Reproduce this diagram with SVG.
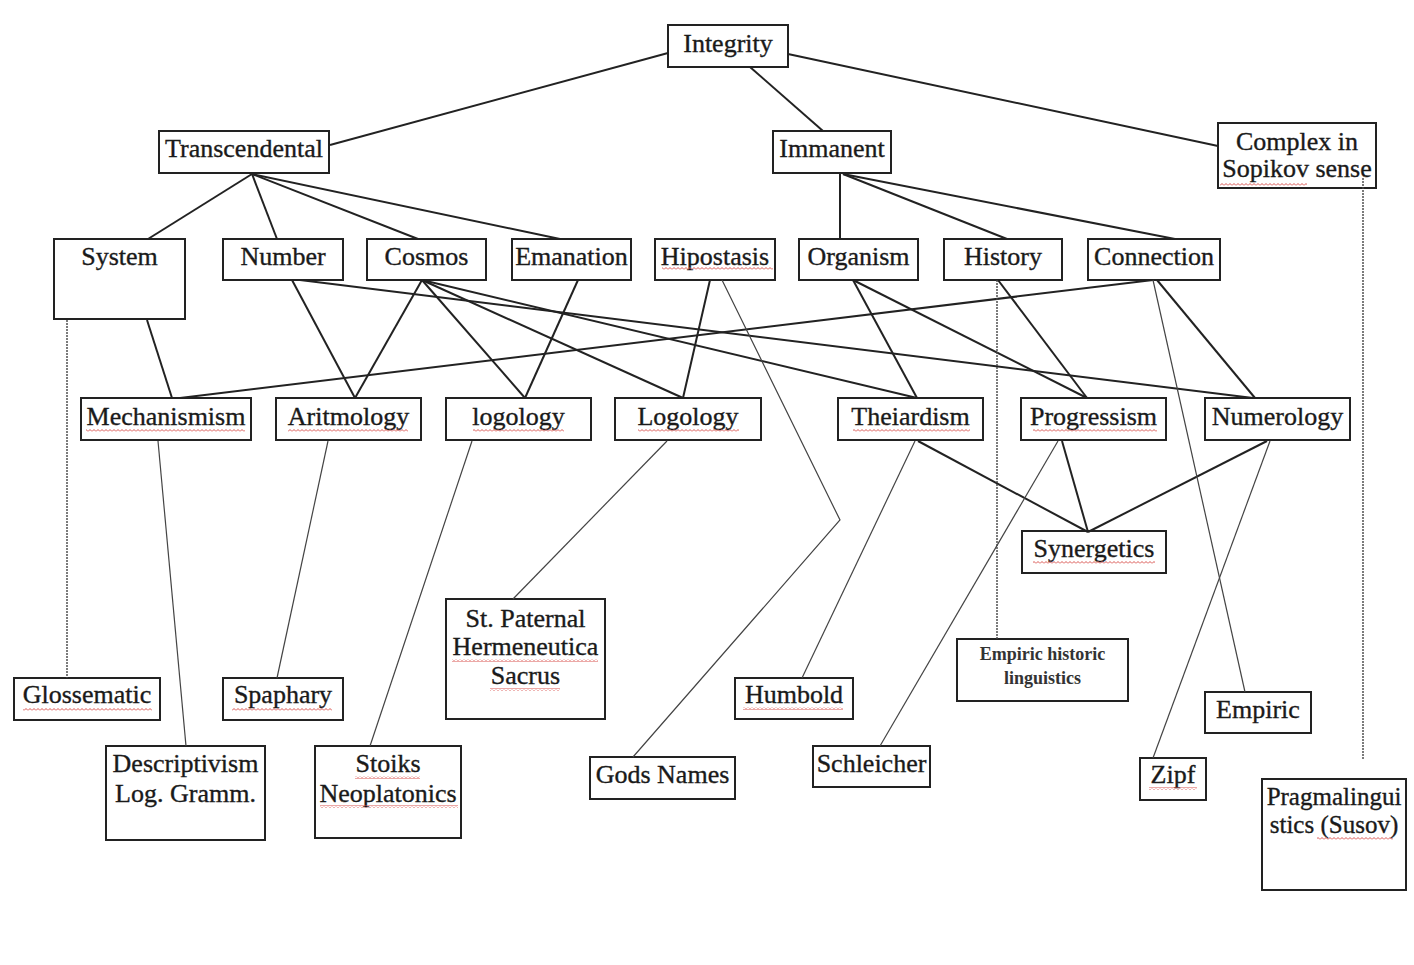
<svg xmlns="http://www.w3.org/2000/svg" width="1414" height="965" viewBox="0 0 1414 965">
<style>
.box{fill:#fff;stroke:#222;stroke-width:2}
.t{font-family:"Liberation Serif","Times New Roman",serif;font-size:26px;fill:#1a1a1a;stroke:#1a1a1a;stroke-width:0.35;text-anchor:middle}
.ts{font-family:"Liberation Serif","Times New Roman",serif;font-size:18px;font-weight:bold;fill:#333;text-anchor:middle}
.s{stroke:#222;stroke-width:2;fill:none}
.th{stroke:#444;stroke-width:1.2;fill:none}
.d{stroke:#444;stroke-width:1.4;fill:none;stroke-dasharray:2 1}
.w{fill:url(#wavy)}
</style>
<defs>
<pattern id="wavy" patternUnits="userSpaceOnUse" width="4" height="3">
<path d="M0 2.5 L2 0.5 L4 2.5" fill="none" stroke="#d9534f" stroke-width="1"/>
</pattern>
</defs>
<rect width="1414" height="965" fill="#fff"/>
<g id="nodes">
<g id="n-integrity"><rect class="box" x="668" y="25" width="120" height="42"/><text class="t" x="728" y="52">Integrity</text></g>
<g id="n-transcendental"><rect class="box" x="159" y="131" width="170" height="42"/><text class="t" x="244" y="157">Transcendental</text></g>
<g id="n-immanent"><rect class="box" x="773" y="131" width="118" height="42"/><text class="t" x="832" y="157">Immanent</text></g>
<g id="n-complex"><rect class="box" x="1218" y="123" width="158" height="65"/><text class="t" x="1297" y="150">Complex in</text><text class="t" x="1297" y="177">Sopikov sense</text><rect class="w" x="1220" y="183" width="87" height="3"/></g>
<g id="n-system"><rect class="box" x="54" y="239" width="131" height="80"/><text class="t" x="119.5" y="265">System</text></g>
<g id="n-number"><rect class="box" x="223" y="239" width="120" height="41"/><text class="t" x="283" y="265">Number</text></g>
<g id="n-cosmos"><rect class="box" x="367" y="239" width="119" height="41"/><text class="t" x="426.5" y="265">Cosmos</text></g>
<g id="n-emanation"><rect class="box" x="512" y="239" width="119" height="41"/><text class="t" x="571.5" y="265">Emanation</text></g>
<g id="n-hipostasis"><rect class="box" x="655" y="239" width="120" height="41"/><text class="t" x="715" y="265">Hipostasis</text><rect class="w" x="662" y="267" width="111" height="3"/></g>
<g id="n-organism"><rect class="box" x="799" y="239" width="119" height="41"/><text class="t" x="858.5" y="265">Organism</text></g>
<g id="n-history"><rect class="box" x="944" y="239" width="118" height="41"/><text class="t" x="1003" y="265">History</text></g>
<g id="n-connection"><rect class="box" x="1088" y="239" width="132" height="41"/><text class="t" x="1154" y="265">Connection</text></g>
<g id="n-mechanismism"><rect class="box" x="81" y="398" width="170" height="42"/><text class="t" x="166" y="425">Mechanismism</text><rect class="w" x="86" y="429" width="159" height="3"/></g>
<g id="n-aritmology"><rect class="box" x="276" y="398" width="145" height="42"/><text class="t" x="348.5" y="425">Aritmology</text><rect class="w" x="288" y="429" width="120" height="3"/></g>
<g id="n-logology-l"><rect class="box" x="446" y="398" width="145" height="42"/><text class="t" x="518.5" y="425">logology</text><rect class="w" x="473" y="429" width="91" height="3"/></g>
<g id="n-logology-u"><rect class="box" x="615" y="398" width="146" height="42"/><text class="t" x="688" y="425">Logology</text><rect class="w" x="638" y="429" width="101" height="3"/></g>
<g id="n-theiardism"><rect class="box" x="838" y="398" width="145" height="42"/><text class="t" x="910.5" y="425">Theiardism</text><rect class="w" x="853" y="429" width="117" height="3"/></g>
<g id="n-progressism"><rect class="box" x="1021" y="398" width="145" height="42"/><text class="t" x="1093.5" y="425">Progressism</text><rect class="w" x="1033" y="429" width="124" height="3"/></g>
<g id="n-numerology"><rect class="box" x="1205" y="398" width="145" height="42"/><text class="t" x="1277.5" y="425">Numerology</text></g>
<g id="n-synergetics"><rect class="box" x="1022" y="531" width="144" height="42"/><text class="t" x="1094" y="557">Synergetics</text><rect class="w" x="1033" y="561" width="122" height="3"/></g>
<g id="n-stpaternal"><rect class="box" x="446" y="599" width="159" height="120"/><text class="t" x="525.5" y="627">St. Paternal</text><text class="t" x="525.5" y="655">Hermeneutica</text><text class="t" x="525.5" y="684">Sacrus</text><rect class="w" x="452" y="659" width="146" height="3"/><rect class="w" x="490" y="688" width="70" height="3"/></g>
<g id="n-empirichist"><rect class="box" x="957" y="639" width="171" height="62"/><text class="ts" x="1042.5" y="660">Empiric historic</text><text class="ts" x="1042.5" y="684">linguistics</text></g>
<g id="n-glossematic"><rect class="box" x="14" y="678" width="146" height="42"/><text class="t" x="87" y="703">Glossematic</text><rect class="w" x="23" y="708" width="129" height="3"/></g>
<g id="n-spaphary"><rect class="box" x="223" y="678" width="120" height="42"/><text class="t" x="283" y="703">Spaphary</text><rect class="w" x="232" y="708" width="100" height="3"/></g>
<g id="n-humbold"><rect class="box" x="735" y="678" width="118" height="41"/><text class="t" x="794" y="703">Humbold</text><rect class="w" x="743" y="707" width="100" height="3"/></g>
<g id="n-empiric"><rect class="box" x="1205" y="692" width="106" height="41"/><text class="t" x="1258" y="718">Empiric</text></g>
<g id="n-descriptivism"><rect class="box" x="106" y="746" width="159" height="94"/><text class="t" x="185.5" y="772">Descriptivism</text><text class="t" x="185.5" y="802">Log. Gramm.</text></g>
<g id="n-stoiks"><rect class="box" x="315" y="746" width="146" height="92"/><text class="t" x="388" y="772">Stoiks</text><text class="t" x="388" y="802">Neoplatonics</text><rect class="w" x="355" y="776" width="65" height="3"/><rect class="w" x="320" y="805" width="138" height="3"/></g>
<g id="n-godsnames"><rect class="box" x="590" y="757" width="145" height="42"/><text class="t" x="662.5" y="783">Gods Names</text></g>
<g id="n-schleicher"><rect class="box" x="813" y="746" width="117" height="41"/><text class="t" x="871.5" y="772">Schleicher</text></g>
<g id="n-zipf"><rect class="box" x="1140" y="758" width="66" height="42"/><text class="t" x="1173" y="783">Zipf</text><rect class="w" x="1149" y="787" width="48" height="3"/></g>
<g id="n-pragma"><rect class="box" x="1262" y="779" width="144" height="111"/><text class="t" x="1334" y="805" style="font-size:25px">Pragmalingui</text><text class="t" x="1334" y="833" style="font-size:25px">stics (Susov)</text><rect class="w" x="1317" y="837" width="76" height="3"/></g>
</g>
<g id="connectors">
<line class="s" x1="668" y1="53" x2="330" y2="145"/>
<line class="s" x1="750" y1="67" x2="823" y2="131"/>
<line class="s" x1="788" y1="54" x2="1218" y2="146"/>
<line class="s" x1="252" y1="174" x2="148" y2="239"/>
<line class="s" x1="252" y1="174" x2="277" y2="239"/>
<line class="s" x1="252" y1="174" x2="418" y2="239"/>
<line class="s" x1="252" y1="174" x2="560" y2="239"/>
<line class="s" x1="840" y1="174" x2="840" y2="239"/>
<line class="s" x1="843" y1="174" x2="1007" y2="239"/>
<line class="s" x1="843" y1="174" x2="1175" y2="239"/>
<line class="s" x1="147" y1="320" x2="172" y2="398"/>
<line class="s" x1="292" y1="280" x2="355" y2="398"/>
<line class="s" x1="422" y1="280" x2="355" y2="398"/>
<line class="s" x1="300" y1="280" x2="1253" y2="398"/>
<line class="s" x1="422" y1="280" x2="525" y2="398"/>
<line class="s" x1="578" y1="280" x2="525" y2="398"/>
<line class="s" x1="422" y1="280" x2="683" y2="398"/>
<line class="s" x1="710" y1="280" x2="683" y2="398"/>
<line class="s" x1="422" y1="280" x2="917" y2="398"/>
<line class="s" x1="1153" y1="280" x2="180" y2="398"/>
<line class="s" x1="853" y1="280" x2="917" y2="398"/>
<line class="s" x1="853" y1="280" x2="1087" y2="398"/>
<line class="s" x1="998" y1="280" x2="1087" y2="398"/>
<line class="s" x1="1157" y1="280" x2="1255" y2="398"/>
<line class="s" x1="918" y1="441" x2="1088" y2="532"/>
<line class="s" x1="1062" y1="441" x2="1088" y2="532"/>
<line class="s" x1="1267" y1="441" x2="1088" y2="532"/>
<line class="th" x1="158" y1="441" x2="186" y2="746"/>
<line class="th" x1="328" y1="441" x2="277" y2="678"/>
<line class="th" x1="472" y1="441" x2="370" y2="746"/>
<line class="th" x1="667" y1="441" x2="513" y2="599"/>
<line class="th" x1="915" y1="441" x2="802" y2="678"/>
<line class="th" x1="1058" y1="441" x2="880" y2="746"/>
<line class="th" x1="1270" y1="441" x2="1153" y2="758"/>
<line class="th" x1="1153" y1="280" x2="1245" y2="692"/>
<polyline class="th" points="722,280 840,520 633,757"/>
<line class="d" x1="67" y1="320" x2="67" y2="678"/>
<line class="d" x1="997" y1="280" x2="997" y2="639"/>
<line class="d" x1="1363" y1="178" x2="1363" y2="760"/>
</g>
</svg>
